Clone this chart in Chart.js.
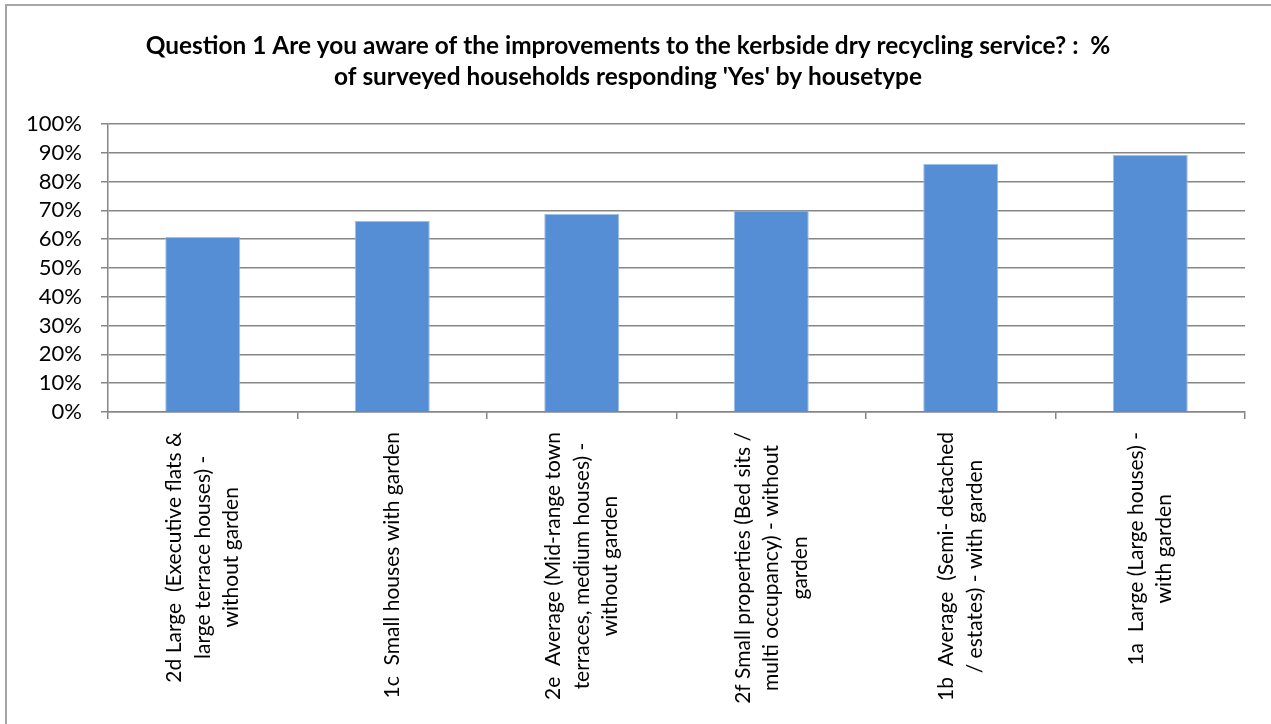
<!DOCTYPE html>
<html>
<head>
<meta charset="utf-8">
<script src="https://cdn.jsdelivr.net/npm/chart.js@4"></script>
<style>
  html, body { margin: 0; padding: 0; background: #fff; }
  #wrap { width: 1271px; height: 724px; position: relative; }
</style>
</head>
<body>
<div id="wrap"><canvas id="c" width="1271" height="724"></canvas></div>
<script>
const titleLines = [
  "Question 1 Are you aware of the improvements to the kerbside dry recycling service? :  %",
  "of surveyed households responding 'Yes' by housetype"
];
const categories = [
  ["2d Large  (Executive flats &", "large terrace houses) -", "without garden"],
  ["1c  Small houses with garden"],
  ["2e  Average (Mid-range town", "terraces, medium houses) -", "without garden"],
  ["2f Small properties (Bed sits /", "multi occupancy) - without", "garden"],
  ["1b  Average  (Semi- detached", "/ estates) - with garden"],
  ["1a  Large (Large houses) -", "with garden"]
];
const yesPercent = [60.8, 66.4, 68.8, 70.0, 86.2, 89.3];
const yTicks = [0, 10, 20, 30, 40, 50, 60, 70, 80, 90, 100];

const FONT = "Lato, 'Open Sans', sans-serif";
const GRID = '#868686';

const frame = {
  id: 'frame',
  beforeDraw(chart) {
    const ctx = chart.ctx;
    ctx.save();
    ctx.fillStyle = '#fff';
    ctx.fillRect(0, 0, chart.width, chart.height);
    ctx.strokeStyle = '#a6a6a6';
    ctx.lineWidth = 2;
    ctx.strokeRect(6, 5, chart.width + 50, chart.height + 50);
    ctx.restore();
  },
  afterDraw(chart) {
    const ctx = chart.ctx;
    ctx.save();
    // title
    ctx.fillStyle = '#000';
    ctx.textAlign = 'center';
    ctx.textBaseline = 'middle';
    ctx.font = "bold 24.4px " + FONT;
    ctx.fillText(titleLines[0], 628, 46);
    ctx.fillText(titleLines[1], 628, 77);
    // rotated multi-line x labels
    const xs = chart.scales.x;
    ctx.font = "21px " + FONT;
    const lh = 28.5;
    categories.forEach((lines, i) => {
      const x = xs.getPixelForValue(i);
      const maxW = Math.max(...lines.map(l => ctx.measureText(l).width));
      ctx.save();
      ctx.translate(x, xs.top + 20 + maxW / 2);
      ctx.rotate(-Math.PI / 2);
      lines.forEach((l, j) => {
        ctx.fillText(l, 0, (j - (lines.length - 1) / 2) * lh);
      });
      ctx.restore();
    });
    ctx.restore();
  }
};

new Chart(document.getElementById('c'), {
  type: 'bar',
  data: {
    labels: categories,
    datasets: [{
      data: yesPercent,
      backgroundColor: '#558ED5',
      borderColor: '#a3c0ea',
      borderWidth: 1,
      barPercentage: 0.396,
      categoryPercentage: 1.0
    }]
  },
  options: {
    responsive: false,
    animation: false,
    layout: { padding: { top: 124, right: 26, left: 0, bottom: 0 } },
    plugins: { legend: { display: false }, tooltip: { enabled: false }, title: { display: false } },
    scales: {
      x: {
        afterFit(scale) { scale.height = 312; },
        ticks: { display: false },
        grid: { display: true, drawOnChartArea: false, drawTicks: true, tickLength: 7, color: GRID, lineWidth: 1.5, offset: true },
        border: { display: true, color: GRID, width: 1.5 }
      },
      y: {
        min: 0, max: 100,
        afterFit(scale) { scale.width = 108; },
        afterBuildTicks(scale) { scale.ticks = yTicks.map(v => ({ value: v })); },
        ticks: {
          autoSkip: false,
          callback: v => v + '%',
          color: '#000',
          font: { family: FONT, size: 22 },
          padding: 19
        },
        grid: { color: GRID, lineWidth: 1.5, tickLength: 7 },
        border: { display: true, color: GRID, width: 1.5 }
      }
    }
  },
  plugins: [frame]
});
</script>
</body>
</html>
